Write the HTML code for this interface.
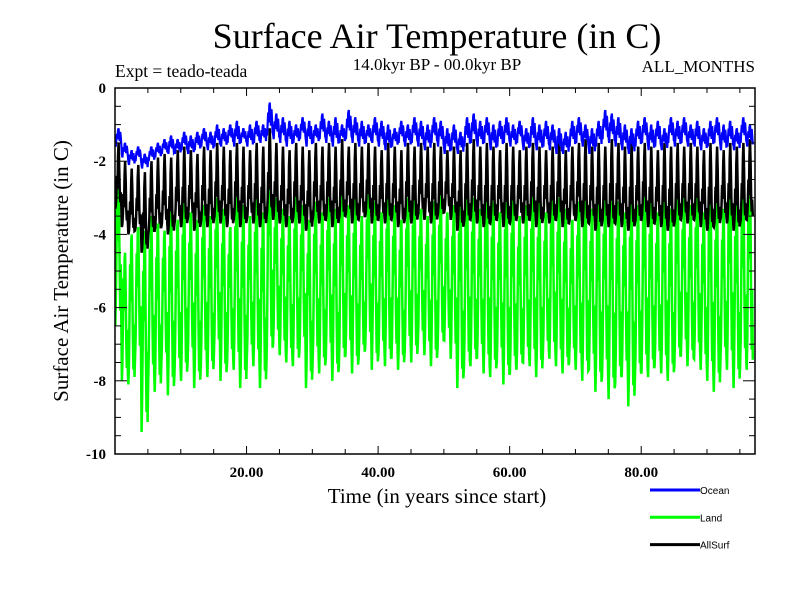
<!DOCTYPE html>
<html><head><meta charset="utf-8"><style>
body{margin:0;background:#fff}
svg{display:block}
.serif{font-family:"Liberation Serif",serif}
.sans{font-family:"Liberation Sans",sans-serif}
</style></head><body>
<svg id="chart" width="800" height="600">
<text class="serif" x="437" y="48" font-size="36" text-anchor="middle">Surface Air Temperature (in C)</text>
<text class="serif" x="115" y="77" font-size="17.5">Expt = teado-teada</text>
<text class="serif" x="437" y="70" font-size="17" text-anchor="middle">14.0kyr BP - 00.0kyr BP</text>
<text class="serif" x="755" y="72" font-size="17" text-anchor="end">ALL_MONTHS</text>
<text class="serif" x="0" y="0" font-size="21" text-anchor="middle" transform="translate(68,271) rotate(-90)">Surface Air Temperature (in C)</text>
<text class="serif" x="437" y="503" font-size="21" text-anchor="middle">Time (in years since start)</text>
<g id="plot"></g>
<g id="axes"></g>
<g id="legend"></g>
</svg>
<script>
const landMax=[-2.3,-4.5,-4.0,-3.8,-3.9,-3.5,-3.7,-3.9,-3.3,-3.6,-3.0,-3.4,-3.6,-3.2,-3.5,-3.0,-3.3,-3.8,-2.8,-3.2,-3.5,-3.0,-3.4,-1.3,-3.0,-3.3,-3.5,-2.9,-3.2,-3.6,-3.1,-3.4,-3.0,-3.3,-2.6,-3.2,-3.0,-3.5,-2.7,-3.1,-3.4,-2.9,-3.2,-3.6,-3.0,-2.8,-3.3,-3.5,-3.1,-2.9,-3.4,-3.2,-2.9,-2.7,-3.0,-3.3,-2.6,-3.1,-3.4,-2.8,-3.0,-3.5,-3.2,-2.9,-3.1,-3.4,-2.8,-3.0,-3.3,-3.6,-3.1,-2.5,-3.3,-2.8,-3.0,-2.6,-3.1,-3.4,-2.9,-3.2,-2.6,-3.0,-3.4,-2.8,-3.3,-2.5,-3.0,-3.2,-2.9,-3.4,-2.6,-3.1,-3.3,-2.4,-3.0,-2.7,-2.2];
const landMin=[-6.5,-8.0,-8.1,-7.4,-9.4,-8.0,-8.3,-7.6,-8.4,-7.8,-8.0,-7.5,-8.2,-7.6,-7.9,-7.3,-8.0,-7.5,-7.7,-8.2,-7.4,-7.6,-8.2,-7.4,-7.0,-7.3,-7.5,-7.6,-7.2,-8.2,-7.5,-7.8,-7.4,-8.0,-7.6,-7.3,-7.8,-7.4,-7.1,-7.7,-7.3,-7.6,-7.4,-7.7,-7.2,-7.5,-7.0,-7.3,-7.6,-7.1,-6.9,-7.4,-8.2,-7.7,-7.6,-7.4,-7.8,-7.9,-7.5,-8.1,-7.8,-7.7,-7.5,-7.6,-7.9,-7.3,-7.4,-7.6,-7.8,-7.5,-7.7,-8.0,-7.7,-8.3,-7.9,-8.5,-8.1,-7.9,-8.7,-8.0,-7.8,-7.9,-7.6,-7.8,-8.0,-7.6,-7.3,-7.6,-7.4,-7.7,-8.0,-8.3,-7.5,-7.7,-8.2,-7.6,-7.7];
const oceanMax=[-1.1,-1.5,-1.7,-1.6,-1.8,-1.6,-1.5,-1.4,-1.3,-1.4,-1.2,-1.3,-1.2,-1.1,-1.2,-1.0,-1.1,-1.0,-0.9,-1.1,-1.0,-0.9,-1.0,-0.4,-0.7,-0.8,-0.9,-1.0,-0.8,-0.9,-1.0,-0.7,-0.9,-0.8,-1.0,-0.6,-0.8,-0.9,-1.0,-0.8,-0.9,-1.0,-1.1,-0.9,-1.0,-0.8,-0.9,-1.0,-0.8,-0.9,-1.1,-1.0,-1.2,-0.8,-0.7,-0.9,-0.8,-1.0,-0.9,-0.8,-1.0,-0.9,-1.1,-0.8,-1.0,-0.9,-1.0,-1.1,-1.2,-0.9,-0.8,-1.0,-1.1,-0.9,-0.6,-0.7,-0.8,-1.0,-1.1,-0.9,-0.8,-1.0,-0.9,-1.1,-0.8,-0.9,-0.8,-1.0,-0.9,-1.1,-0.9,-0.8,-1.0,-0.9,-1.1,-0.8,-1.0];
const oceanMin=[-1.6,-1.9,-2.1,-2.0,-2.2,-2.0,-1.9,-1.8,-1.8,-1.8,-1.7,-1.8,-1.7,-1.6,-1.7,-1.6,-1.6,-1.5,-1.6,-1.5,-1.6,-1.5,-1.5,-1.3,-1.4,-1.5,-1.6,-1.5,-1.4,-1.6,-1.5,-1.4,-1.5,-1.6,-1.5,-1.4,-1.5,-1.6,-1.5,-1.5,-1.6,-1.7,-1.6,-1.5,-1.6,-1.5,-1.6,-1.7,-1.5,-1.6,-1.8,-1.7,-1.8,-1.6,-1.5,-1.6,-1.5,-1.7,-1.6,-1.5,-1.6,-1.5,-1.7,-1.6,-1.7,-1.6,-1.7,-1.8,-1.8,-1.6,-1.5,-1.6,-1.8,-1.6,-1.4,-1.5,-1.6,-1.7,-1.8,-1.6,-1.5,-1.7,-1.6,-1.7,-1.5,-1.6,-1.5,-1.6,-1.6,-1.7,-1.6,-1.5,-1.7,-1.6,-1.7,-1.5,-1.6];
const allMax=[-1.5,-2.0,-2.2,-2.1,-2.3,-2.0,-1.9,-1.8,-1.9,-1.7,-1.6,-1.7,-1.8,-1.6,-1.7,-1.5,-1.6,-1.7,-1.5,-1.6,-1.7,-1.5,-1.6,-1.1,-1.5,-1.6,-1.7,-1.5,-1.6,-1.7,-1.5,-1.6,-1.5,-1.6,-1.4,-1.6,-1.5,-1.6,-1.5,-1.6,-1.7,-1.5,-1.6,-1.7,-1.5,-1.6,-1.5,-1.6,-1.5,-1.6,-1.7,-1.6,-1.7,-1.5,-1.4,-1.6,-1.5,-1.6,-1.7,-1.5,-1.6,-1.7,-1.6,-1.5,-1.6,-1.7,-1.6,-1.5,-1.7,-1.6,-1.5,-1.4,-1.6,-1.5,-1.6,-1.4,-1.5,-1.6,-1.5,-1.6,-1.5,-1.6,-1.7,-1.5,-1.6,-1.5,-1.6,-1.5,-1.6,-1.7,-1.5,-1.6,-1.7,-1.5,-1.6,-1.5,-1.4];
const allMin=[-3.3,-3.8,-4.0,-3.9,-4.5,-4.0,-3.9,-3.8,-4.0,-3.7,-3.8,-3.6,-3.9,-3.7,-3.8,-3.6,-3.7,-3.8,-3.6,-3.8,-3.6,-3.7,-3.8,-3.5,-3.6,-3.7,-3.8,-3.6,-3.7,-3.9,-3.6,-3.7,-3.6,-3.8,-3.6,-3.5,-3.7,-3.6,-3.5,-3.7,-3.6,-3.7,-3.6,-3.8,-3.6,-3.7,-3.5,-3.6,-3.7,-3.5,-3.4,-3.6,-3.9,-3.7,-3.6,-3.7,-3.8,-3.7,-3.6,-3.8,-3.7,-3.6,-3.7,-3.6,-3.8,-3.6,-3.7,-3.6,-3.8,-3.7,-3.6,-3.8,-3.7,-3.9,-3.7,-3.8,-3.7,-3.8,-3.9,-3.7,-3.6,-3.8,-3.7,-3.8,-3.9,-3.7,-3.6,-3.7,-3.6,-3.8,-3.9,-3.8,-3.6,-3.7,-3.9,-3.7,-3.6];
const monthShape=[0.0,0.15,0.45,0.8,0.55,0.95,1.0,0.7,0.35,0.1,0.4,0.05];
const allShape=[0.0,0.05,0.2,0.5,0.3,0.8,1.0,0.7,0.3,0.1,0.25,0.05];
const oceanShape=[0.2,0.0,0.4,0.7,0.4,0.9,1.0,0.6,0.3,0.8,0.5,0.1];
const yTicks=[0,-2,-4,-6,-8,-10];
const xTicks=[20,40,60,80];
const seriesNames=["Ocean","Land","AllSurf"];
const seriesColors=["#0000ff","#00ff00","#000000"];

const L=115,R=755,T=88,B=454,XMAX=97.3,YMIN=-10,YMAX=0;
const xs=v=>L+(v/XMAX)*(R-L);
const ys=v=>T+(YMAX-v)/(YMAX-YMIN)*(B-T);
const NS="http://www.w3.org/2000/svg";
function mk(tag,attrs,parent){const e=document.createElementNS(NS,tag);for(const k in attrs)e.setAttribute(k,attrs[k]);parent.appendChild(e);return e;}
function build(mx,mn,shape){const pts=[];const n=Math.min(mx.length,mn.length);
 for(let y=0;y<n;y++)for(let m=0;m<12;m++){const v=mn[y]+(mx[y]-mn[y])*shape[m];pts.push([y+(m+0.5)/12,v]);}
 return pts;}
const plot=document.getElementById('plot');
const clip=mk('clipPath',{id:'cp'},plot);mk('rect',{x:L,y:T,width:R-L,height:B-T},clip);
const data=[[landMax,landMin,monthShape,1,2.5],[allMax,allMin,allShape,2,2.5],[oceanMax,oceanMin,oceanShape,0,2.2]];
data.forEach(([mx,mn,sh,ci,w])=>{
 const pts=build(mx,mn,sh);
 const p=mk('polyline',{points:pts.map(q=>xs(q[0]).toFixed(1)+','+ys(q[1]).toFixed(1)).join(' '),fill:'none',stroke:seriesColors[ci],'stroke-width':w,'stroke-linejoin':'miter','clip-path':'url(#cp)'},plot);
 
 
});
const ax=document.getElementById('axes');
mk('rect',{x:L,y:T,width:R-L,height:B-T,fill:'none',stroke:'#000','stroke-width':1.5},ax);
for(let v=0;v>=-10;v-=0.5){const y=ys(v);const len=(v%2===0)?12:6;
 mk('line',{x1:L,y1:y,x2:L+len,y2:y,stroke:'#000','stroke-width':1},ax);
 mk('line',{x1:R,y1:y,x2:R-len,y2:y,stroke:'#000','stroke-width':1},ax);}
for(let v=5;v<XMAX;v+=5){const x=xs(v);const len=(v%20===0)?8:5;
 mk('line',{x1:x,y1:T,x2:x,y2:T+len,stroke:'#000','stroke-width':1},ax);
 mk('line',{x1:x,y1:B,x2:x,y2:B-len,stroke:'#000','stroke-width':1},ax);}
yTicks.forEach(v=>{const t=mk('text',{x:106,y:ys(v)+5,'font-size':15,'font-weight':'bold','text-anchor':'end',class:'serif'},ax);t.textContent=v;
 
 });
xTicks.forEach(v=>{const t=mk('text',{x:xs(v),y:477,'font-size':15,'font-weight':'bold','text-anchor':'middle',class:'serif'},ax);t.textContent=v.toFixed(2);
 
 });
const lg=document.getElementById('legend');
seriesNames.forEach((n,i)=>{const y=490+i*27.3;
 const g=mk('g',{},lg);
 
 
 mk('line',{x1:650,y1:y,x2:700,y2:y,stroke:seriesColors[i],'stroke-width':3},g);
 const t=mk('text',{x:700,y:y+4,'font-size':10,class:'sans'},g);t.textContent=n;});
</script>
</body></html>
